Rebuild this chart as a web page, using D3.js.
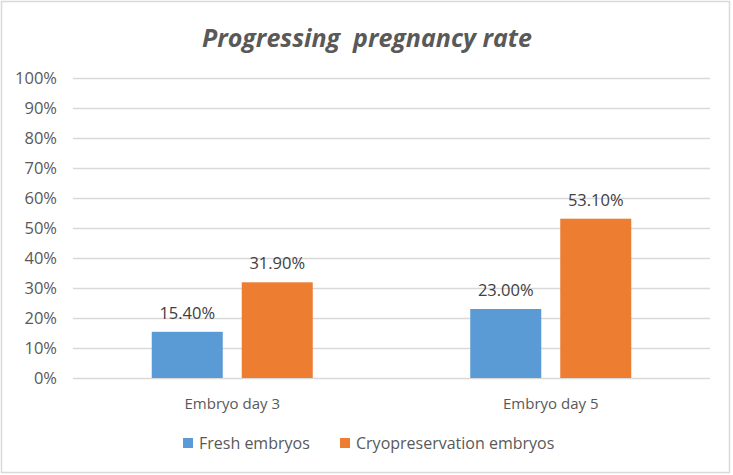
<!DOCTYPE html>
<html>
<head>
<meta charset="utf-8">
<script src="https://cdn.jsdelivr.net/npm/d3@7"></script>
<style>
  html, body { margin: 0; padding: 0; background: #fff; }
  svg { display: block; font-family: "Open Sans", "Noto Sans", sans-serif; }
</style>
</head>
<body>
<svg id="chart" width="733" height="475"></svg>
<script>
// données
const categories = ["Embryo day 3", "Embryo day 5"];
const series = ["Fresh embryos", "Cryopreservation embryos"];
const fresh = [15.4, 23.0];
const cryo = [31.9, 53.1];
const yTicks = [0, 10, 20, 30, 40, 50, 60, 70, 80, 90, 100];
const colors = ["#5b9bd5", "#ed7d31"];

const svg = d3.select("#chart");
const W = 733, H = 475;
const plotLeft = 73, plotRight = 710, plotTop = 78, plotBottom = 378;

// cadre
svg.append("rect")
  .attr("x", 1.5).attr("y", 1.5)
  .attr("width", W - 5).attr("height", H - 4)
  .attr("fill", "#fff").attr("stroke", "#d9d9d9").attr("stroke-width", 1.5);

// titre
svg.append("text")
  .attr("x", 367).attr("y", 47)
  .attr("text-anchor", "middle")
  .style("white-space", "pre")
  .attr("font-size", 25).attr("font-weight", "bold").attr("font-style", "italic")
  .attr("fill", "#595959")
  .text("Progressing  pregnancy rate");

const y = d3.scaleLinear().domain([0, 100]).range([plotBottom, plotTop]);
const x0 = d3.scaleBand().domain(categories).range([plotLeft, plotRight]).padding(0);
const x1 = d3.scaleBand().domain(series).range([0, x0.bandwidth()])
  .paddingInner(0.211).paddingOuter(0.875);

// grille
svg.append("g").selectAll("line")
  .data(yTicks)
  .enter()
  .append("line")
  .attr("x1", plotLeft).attr("x2", plotRight)
  .attr("y1", d => y(d) + 0.5).attr("y2", d => y(d) + 0.5)
  .attr("stroke", "#d9d9d9").attr("stroke-width", 1.3);

// axe y
const yAxis = svg.append("g")
  .attr("transform", `translate(${plotLeft - 16},0)`)
  .call(d3.axisLeft(y).tickValues(yTicks).tickFormat(d => d + "%").tickSize(0).tickPadding(0));
yAxis.select(".domain").remove();
yAxis.selectAll("text")
  .attr("font-size", 16.5).attr("fill", "#595959")
  .attr("font-family", "'Open Sans', sans-serif");

// barres
const rows = categories.map((c, i) => ({ cat: c, values: [fresh[i], cryo[i]] }));
const groups = svg.append("g").selectAll("g")
  .data(rows)
  .enter()
  .append("g")
  .attr("transform", d => `translate(${x0(d.cat)},0)`);

groups.selectAll("rect")
  .data(d => d.values.map((v, j) => ({ s: series[j], v: v, j: j })))
  .enter()
  .append("rect")
  .attr("x", d => x1(d.s))
  .attr("y", d => y(d.v))
  .attr("width", x1.bandwidth())
  .attr("height", d => y(0) - y(d.v))
  .attr("fill", d => colors[d.j]);

groups.selectAll("text")
  .data(d => d.values.map((v, j) => ({ s: series[j], v: v })))
  .enter()
  .append("text")
  .attr("x", d => x1(d.s) + x1.bandwidth() / 2)
  .attr("y", d => y(d.v) - 13)
  .attr("text-anchor", "middle")
  .attr("font-size", 16.5).attr("fill", "#404040")
  .text(d => d.v.toFixed(2) + "%");

// axe x
svg.append("g").selectAll("text")
  .data(categories)
  .enter()
  .append("text")
  .attr("x", d => x0(d) + x0.bandwidth() / 2)
  .attr("y", 409)
  .attr("text-anchor", "middle")
  .attr("font-size", 15).attr("fill", "#595959")
  .text(d => d);

// légende
const legX = [183, 340];
const leg = svg.append("g").selectAll("g")
  .data(series)
  .enter()
  .append("g")
  .attr("transform", (d, i) => `translate(${legX[i]},438)`);
leg.append("rect")
  .attr("width", 10).attr("height", 10)
  .attr("fill", (d, i) => colors[i]);
leg.append("text")
  .attr("x", 16).attr("y", 11)
  .attr("font-size", 16).attr("fill", "#595959")
  .text(d => d);
</script>
</body>
</html>
